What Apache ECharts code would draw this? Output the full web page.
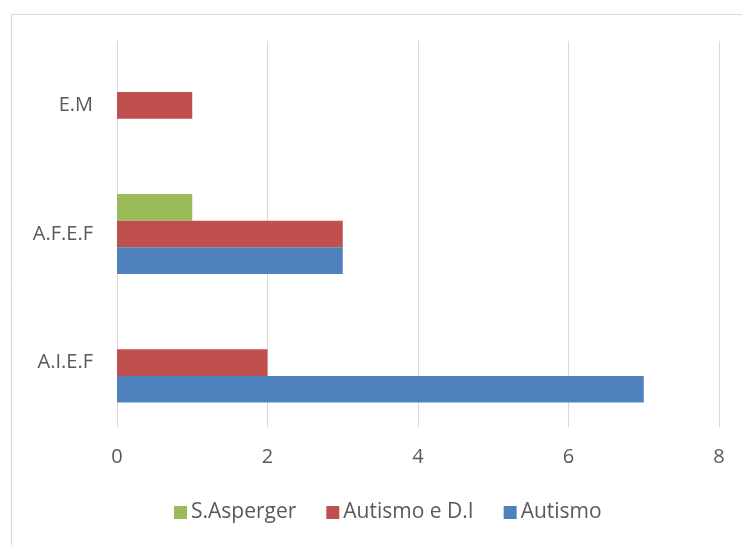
<!DOCTYPE html>
<html>
<head>
<meta charset="utf-8">
<script src="https://cdn.jsdelivr.net/npm/echarts@6/dist/echarts.min.js"></script>
<style>html,body{margin:0;padding:0;background:#fff}#c{width:742px;height:545px}</style>
</head>
<body>
<div id="c"></div>
<script>
const categories = ['A.I.E.F', 'A.F.E.F', 'E.M'];
const autismo = [7, 3, 0];
const autismoDI = [2, 3, 1];
const asperger = [0, 1, 0];
const xTicks = { min: 0, max: 8, interval: 2 };

const chart = echarts.init(document.getElementById('c'));
const font = '"Open Sans", "Liberation Sans", sans-serif';
chart.setOption({
  animation: false,
  graphic: [{
    type: 'rect', left: 9, top: 12,
    shape: { width: 760, height: 560 },
    style: { fill: 'none', stroke: '#d9d9d9', lineWidth: 1 }
  }],
  grid: { left: 117, right: 23, top: 41, bottom: 118 },
  legend: {
    data: ['S.Asperger', 'Autismo e D.I', 'Autismo'],
    left: 174, top: 502, padding: 0, itemWidth: 13, itemHeight: 13, itemGap: 30,
    icon: 'rect',
    textStyle: { fontFamily: font, fontSize: 21, color: '#595959', padding: [0, 0, 0, -1] }
  },
  xAxis: {
    type: 'value', min: xTicks.min, max: xTicks.max, interval: xTicks.interval,
    axisLine: { show: false }, axisTick: { show: false },
    splitLine: { lineStyle: { color: '#d9d9d9', width: 1 } },
    axisLabel: { fontFamily: font, fontSize: 20, color: '#595959', margin: 20 }
  },
  yAxis: {
    type: 'category', data: categories,
    axisLine: { show: false }, axisTick: { show: false },
    axisLabel: { fontFamily: font, fontSize: 20, color: '#595959', margin: 24 }
  },
  series: [
    { name: 'S.Asperger', type: 'bar', data: asperger, barGap: 0, barCategoryGap: '38%', itemStyle: { color: '#9BBB59' } },
    { name: 'Autismo e D.I', type: 'bar', data: autismoDI, barGap: 0, barCategoryGap: '38%', itemStyle: { color: '#C0504D' } },
    { name: 'Autismo', type: 'bar', data: autismo, barGap: 0, barCategoryGap: '38%', itemStyle: { color: '#4F81BD' } }
  ]
});
</script>
</body>
</html>
